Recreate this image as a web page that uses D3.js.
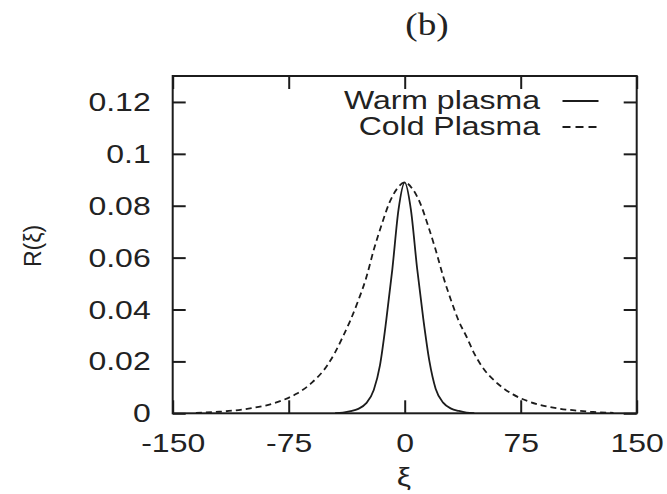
<!DOCTYPE html>
<html>
<head>
<meta charset="utf-8">
<script src="https://cdn.jsdelivr.net/npm/d3@7"></script>
<style>
  body { margin: 0; background: #fff; }
  svg text { font-family: "Liberation Sans", Arial, sans-serif; fill: #222; }
</style>
</head>
<body>
<svg class="chart" width="667" height="494"></svg>
<script>
// values
const warmXi = [-45, -40, -35, -30, -25, -20, -16, -12, -8, -4, 0, 4, 8, 12, 16, 20, 25, 30, 35, 40, 45];
const warmR  = [0.0001, 0.0003, 0.0008, 0.0017, 0.0038, 0.0090, 0.0185, 0.0355, 0.0555, 0.0785, 0.0890,
                0.0785, 0.0560, 0.0365, 0.0200, 0.0095, 0.0040, 0.0018, 0.0009, 0.0003, 0.0001];

const coldXi = [-135, -120, -110, -100, -90, -80, -70, -60, -50, -45, -40, -35, -30, -25, -20, -15, -10, -5, 0,
                5, 10, 15, 20, 25, 30, 35, 40, 45, 50, 60, 70, 80, 90, 100, 110, 120, 135];
const coldR  = [0.0002, 0.0006, 0.0011, 0.0019, 0.0030, 0.0048, 0.0075, 0.0118, 0.0185, 0.0235, 0.0295, 0.0360,
                0.0435, 0.0520, 0.0630, 0.0725, 0.0810, 0.0865, 0.0890,
                0.0865, 0.0810, 0.0725, 0.0630, 0.0525, 0.0435, 0.0355, 0.0295, 0.0230, 0.0180, 0.0115, 0.0073,
                0.0046, 0.0029, 0.0018, 0.0011, 0.0006, 0.0002];

const xTicks = [-150, -75, 0, 75, 150];
const xTickLabels = ["-150", "-75", "0", "75", "150"];
const yTicks = [0, 0.02, 0.04, 0.06, 0.08, 0.1, 0.12];
const yTickLabels = ["0", "0.02", "0.04", "0.06", "0.08", "0.1", "0.12"];
const seriesNames = ["Warm plasma", "Cold Plasma"];

const ink = "#1c1c1c";
const sx = 1.28;  // the reference text is drawn wide

let svg = d3.select("svg.chart"),
    plot = {left: 172.7, right: 636.7, top: 76, bottom: 413.3};

let x = d3.scaleLinear().domain([-150, 150]).range([plot.left, plot.right]);
let y = d3.scaleLinear().domain([0, 0.13]).range([plot.bottom, plot.top]);

function styleAxis(g) {
    g.select(".domain").remove();
    g.selectAll(".tick line").attr("stroke", ink).attr("stroke-width", 2);
}

// bottom axis with labels
svg.append("g")
    .attr("transform", "translate(0," + plot.bottom + ")")
    .call(d3.axisBottom(x).tickValues(xTicks).tickSize(-13).tickSizeOuter(0)
        .tickFormat((d, i) => xTickLabels[i]))
    .call(styleAxis)
    .call(g => g.selectAll("text")
        .attr("y", 39).attr("dy", null)
        .attr("transform", "scale(" + sx + ",1)")
        .style("font-size", "25px")
        .style("font-family", "Liberation Sans, Arial, sans-serif")
        .attr("fill", ink));

// top mirror ticks
svg.append("g")
    .attr("transform", "translate(0," + plot.top + ")")
    .call(d3.axisTop(x).tickValues(xTicks).tickSize(-13).tickSizeOuter(0).tickFormat(""))
    .call(styleAxis);

// left axis with labels
svg.append("g")
    .attr("transform", "translate(" + plot.left + ",0)")
    .call(d3.axisLeft(y).tickValues(yTicks).tickSize(-13).tickSizeOuter(0)
        .tickFormat((d, i) => yTickLabels[i]))
    .call(styleAxis)
    .call(g => g.selectAll("text")
        .attr("x", -22 / sx).attr("dy", "0.34em")
        .attr("transform", "scale(" + sx + ",1)")
        .style("font-size", "25px")
        .style("font-family", "Liberation Sans, Arial, sans-serif")
        .attr("fill", ink));

// right mirror ticks
svg.append("g")
    .attr("transform", "translate(" + plot.right + ",0)")
    .call(d3.axisRight(y).tickValues(yTicks).tickSize(-13).tickSizeOuter(0).tickFormat(""))
    .call(styleAxis);

// frame
svg.append("rect")
    .attr("x", x(-150))
    .attr("y", y(0.13))
    .attr("width", x(150) - x(-150))
    .attr("height", y(0) - y(0.13))
    .attr("fill", "none")
    .attr("stroke", ink)
    .attr("stroke-width", 2);

let line = d3.line()
    .curve(d3.curveMonotoneX)
    .x(d => x(d[0]))
    .y(d => y(d[1]));

let warm = warmXi.map((v, i) => [v, warmR[i]]);
let cold = coldXi.map((v, i) => [v, coldR[i]]);

svg.append("path")
    .datum(cold)
    .attr("d", line)
    .attr("fill", "none")
    .attr("stroke", ink)
    .attr("stroke-width", 1.8)
    .attr("stroke-dasharray", "6,4");

svg.append("path")
    .datum(warm)
    .attr("d", line)
    .attr("fill", "none")
    .attr("stroke", ink)
    .attr("stroke-width", 1.8);

// legend
let legend = svg.append("g");
let legendRows = [{name: seriesNames[0], base: 109, ly: 101, dash: null},
                  {name: seriesNames[1], base: 135, ly: 127, dash: "8,5"}];
legendRows.forEach(r => {
    legend.append("text")
        .attr("x", 540 / sx)
        .attr("y", r.base)
        .attr("transform", "scale(" + sx + ",1)")
        .style("text-anchor", "end")
        .style("font-size", "25px")
        .text(r.name);
    legend.append("line")
        .attr("x1", 562.5).attr("x2", 598.5)
        .attr("y1", r.ly).attr("y2", r.ly)
        .attr("stroke", ink)
        .attr("stroke-width", 1.8)
        .attr("stroke-dasharray", r.dash);
});

// title
svg.append("text")
    .attr("x", 427 / 1.2)
    .attr("y", 35)
    .attr("transform", "scale(1.2,1)")
    .style("text-anchor", "middle")
    .style("font-family", "'Liberation Serif', 'Times New Roman', serif")
    .style("font-size", "31px")
    .attr("fill", "#333")
    .text("(b)");

// axis labels
svg.append("text")
    .attr("x", 404 / sx)
    .attr("y", 486)
    .attr("transform", "scale(" + sx + ",1)")
    .style("text-anchor", "middle")
    .style("font-size", "25px")
    .text("ξ");

svg.append("text")
    .attr("transform", "translate(41,246) rotate(-90)")
    .style("text-anchor", "middle")
    .style("font-size", "23px")
    .text("R(ξ)");
</script>
</body>
</html>
